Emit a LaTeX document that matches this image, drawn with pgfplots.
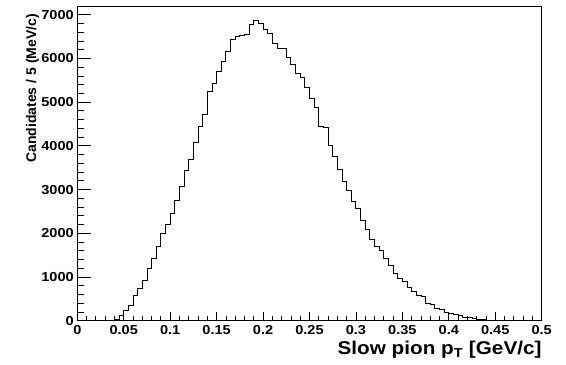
\documentclass[border=0pt]{standalone}
\usepackage{pgfplots}
\usepackage{pgfplotstable}
\pgfplotsset{compat=1.18}
\usepackage{fontspec}
\setmainfont{Liberation Sans}
\newfontfamily\widefont{Liberation Sans}[FakeStretch=1.12]

% Slow pion transverse momentum, 5 MeV/c bins (left edge, candidates)
\pgfplotstableread{
x y
0.000 0
0.005 0
0.010 0
0.015 0
0.020 0
0.025 0
0.030 0
0.035 0
0.040 25
0.045 130
0.050 235
0.055 340
0.060 570
0.065 730
0.070 925
0.075 1185
0.080 1435
0.085 1700
0.090 2000
0.095 2200
0.100 2460
0.105 2750
0.110 3080
0.115 3440
0.120 3685
0.125 4087
0.130 4452
0.135 4712
0.140 5251
0.145 5420
0.150 5701
0.155 5929
0.160 6158
0.165 6438
0.170 6500
0.175 6530
0.180 6545
0.185 6767
0.190 6858
0.195 6797
0.200 6653
0.205 6568
0.210 6333
0.215 6233
0.220 6219
0.225 6014
0.230 5854
0.235 5655
0.240 5557
0.245 5342
0.250 5091
0.255 4886
0.260 4452
0.265 4420
0.270 4018
0.275 3753
0.280 3470
0.285 3190
0.290 2991
0.295 2726
0.300 2566
0.305 2299
0.310 2087
0.315 1865
0.320 1699
0.325 1614
0.330 1425
0.335 1265
0.340 1082
0.345 968
0.350 900
0.355 770
0.360 662
0.365 580
0.370 548
0.375 404
0.380 365
0.385 290
0.390 251
0.395 192
0.400 160
0.405 137
0.410 114
0.415 84
0.420 68
0.425 55
0.430 40
0.435 25
0.440 15
0.445 5
0.450 0
0.455 0
0.460 0
0.465 0
0.470 0
0.475 0
0.480 0
0.485 0
0.490 0
0.495 0
0.500 0
}\pionpt

\begin{document}
\begin{tikzpicture}
\useasboundingbox (-77.3bp,-44.3bp) rectangle (488.7bp,320.7bp);
\begin{axis}[
  scale only axis,
  width=464.4bp, height=314.7bp,
  xmin=0, xmax=0.5, ymin=0, ymax=7200,
  axis line style={black, line width=0.9bp},
  tick pos=left, tick align=inside,
  xtick={0,0.05,0.1,0.15,0.2,0.25,0.3,0.35,0.4,0.45,0.5},
  xticklabels={0,0.05,0.1,0.15,0.2,0.25,0.3,0.35,0.4,0.45,0.5},
  ytick={0,1000,2000,3000,4000,5000,6000,7000},
  yticklabels={0,1000,2000,3000,4000,5000,6000,7000},
  minor x tick num=4, minor y tick num=4,
  x tick style={black, line width=0.8bp, /pgfplots/major tick length=9bp, /pgfplots/minor tick length=4.5bp},
  y tick style={black, line width=0.8bp, /pgfplots/major tick length=13.7bp, /pgfplots/minor tick length=7bp},
  ticklabel style={font=\widefont\bfseries\fontsize{13bp}{15bp}\selectfont},
  x tick label style={yshift=-1.5bp},
  xlabel={Slow pion p\textsubscript{T} [GeV/c]},
  ylabel={Candidates / 5 (MeV/c)},
  every axis x label/.style={at={(axis description cs:1,0)}, anchor=base east, yshift=-34bp, inner sep=0pt,
    font=\widefont\bfseries\fontsize{18.5bp}{20bp}\selectfont},
  every axis y label/.style={at={(axis description cs:-0.0889,0.9746)}, rotate=90, anchor=base east, inner sep=0pt,
    font=\bfseries\fontsize{14bp}{16bp}\selectfont},
]
\addplot[const plot, black, line width=0.9bp] table {\pionpt};
\end{axis}
\end{tikzpicture}
\end{document}
